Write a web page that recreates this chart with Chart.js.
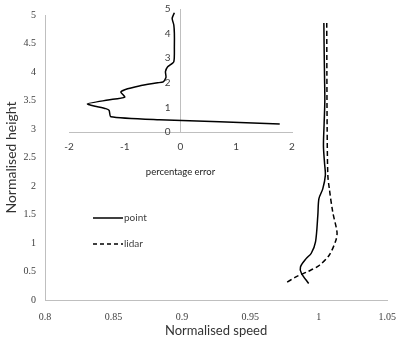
<!DOCTYPE html>
<html>
<head>
<meta charset="utf-8">
<script src="https://cdn.jsdelivr.net/npm/chart.js@4"></script>
<style>
  html, body { margin: 0; padding: 0; background: #fff; }
  #wrap { position: relative; width: 407px; height: 344px; }
  #wrap canvas { position: absolute; left: 0; top: 0; }
  #inset { pointer-events: none; }
</style>
</head>
<body>
<div id="wrap">
  <canvas id="main" width="407" height="344"></canvas>
  <canvas id="inset" width="407" height="344"></canvas>
</div>
<script>
// main profile: normalised height vs normalised speed
const heightPoint = [4.86, 4.4, 3.9, 3.5, 3.1, 2.7, 2.4, 2.19, 1.95, 1.78, 1.49, 1.02, 0.82, 0.73, 0.58, 0.47, 0.29];
const speedPoint  = [1.0037, 1.0039, 1.0042, 1.0044, 1.0039, 1.0034, 1.0042, 1.0048, 1.0029, 1.0001, 0.9993, 0.9976, 0.9945, 0.9909, 0.9866, 0.9873, 0.9926];

const heightLidar = [4.86, 4.0, 3.0, 2.19, 1.95, 1.54, 1.19, 1.05, 0.79, 0.61, 0.5, 0.41, 0.29];
const speedLidar  = [1.0058, 1.0059, 1.0061, 1.0066, 1.0077, 1.0102, 1.0133, 1.0125, 1.0077, 1.0005, 0.9921, 0.9837, 0.9753];

// inset: percentage error vs normalised height
const heightErr = [4.85, 4.62, 4.35, 4.01, 3.47, 2.86, 2.65, 2.45, 2.22, 2.04, 2.0, 1.87, 1.72, 1.62, 1.42, 1.30, 1.14, 0.95, 0.88, 0.62, 0.5, 0.33];
const pctErr     = [-0.11, -0.15, -0.12, -0.11, -0.11, -0.12, -0.23, -0.27, -0.26, -0.31, -0.41, -0.74, -1.0, -1.07, -1.0, -1.3, -1.67, -1.34, -1.28, -1.25, -0.38, 1.78];

const seriesNames = ['point', 'lidar'];

const axisGrey = '#bfbfbf';
const textGrey = '#404040';

function toXY(xs, ys) {
  return xs.map((x, i) => ({ x: x, y: ys[i] }));
}

// drop trailing zeros, excel style (0.80 -> 0.8, 5.0 -> 5)
function plainTick(v) {
  return String(Number(v.toFixed(2)));
}

// little legend drawn inside the plot, like the original
const legendPlugin = {
  id: 'innerLegend',
  afterDraw(chart) {
    const c = chart.ctx;
    const rows = [{ y: 218, dash: [] }, { y: 244, dash: [4, 3] }];
    c.save();
    rows.forEach((r, i) => {
      c.strokeStyle = '#000';
      c.lineWidth = 1.5;
      c.setLineDash(r.dash);
      c.beginPath();
      c.moveTo(93, r.y);
      c.lineTo(123, r.y);
      c.stroke();
      c.setLineDash([]);
      c.fillStyle = textGrey;
      c.font = '10px Lato';
      c.textBaseline = 'middle';
      c.fillText(chart.data.datasets[i].label, 124, r.y);
    });
    c.restore();
  }
};

new Chart(document.getElementById('main'), {
  type: 'scatter',
  data: {
    datasets: [
      {
        label: seriesNames[0],
        data: toXY(speedPoint, heightPoint),
        showLine: true,
        borderColor: '#000',
        borderWidth: 1.5,
        pointRadius: 0,
        tension: 0.3
      },
      {
        label: seriesNames[1],
        data: toXY(speedLidar, heightLidar),
        showLine: true,
        borderColor: '#000',
        borderWidth: 1.5,
        borderDash: [5, 3],
        pointRadius: 0,
        tension: 0.3
      }
    ]
  },
  options: {
    responsive: false,
    animation: false,
    layout: { padding: { left: 0, right: 15, top: 14, bottom: 0 } },
    plugins: { legend: { display: false }, tooltip: { enabled: false } },
    scales: {
      x: {
        type: 'linear',
        min: 0.8,
        max: 1.05,
        ticks: { stepSize: 0.05, color: textGrey, padding: 11, callback: plainTick, font: { family: 'Liberation Serif', size: 10 } },
        grid: { display: false, drawTicks: false },
        border: { color: axisGrey, width: 1 },
        title: { display: true, text: 'Normalised speed', color: '#333', padding: { top: 0, bottom: 5 }, font: { family: 'Lato', size: 13 } },
        afterFit: (s) => { s.height = 44; }
      },
      y: {
        type: 'linear',
        min: 0,
        max: 5,
        ticks: { stepSize: 0.5, color: textGrey, padding: 9, callback: plainTick, font: { family: 'Liberation Serif', size: 10 } },
        grid: { display: false, drawTicks: false },
        border: { color: axisGrey, width: 1 },
        title: { display: true, text: 'Normalised height', color: '#333', padding: { top: 3, bottom: 0 }, font: { family: 'Lato', size: 14 } },
        afterFit: (s) => { s.width = 45; }
      }
    }
  },
  plugins: [legendPlugin]
});

new Chart(document.getElementById('inset'), {
  type: 'scatter',
  data: {
    datasets: [
      {
        label: 'percentage error',
        data: toXY(pctErr, heightErr),
        showLine: true,
        borderColor: '#000',
        borderWidth: 1.5,
        pointRadius: 0,
        tension: 0.2
      }
    ]
  },
  options: {
    responsive: false,
    animation: false,
    layout: { padding: { left: 69, right: 115, top: 9, bottom: 162 } },
    plugins: { legend: { display: false }, tooltip: { enabled: false } },
    scales: {
      x: {
        type: 'linear',
        position: 'bottom',
        min: -2,
        max: 2,
        ticks: { stepSize: 1, color: textGrey, padding: 9, font: { family: 'Lato', size: 10 } },
        grid: { display: false, drawTicks: false },
        border: { color: axisGrey, width: 1 },
        title: { display: true, text: 'percentage error', color: '#222', padding: { top: 0, bottom: 4 }, font: { family: 'Lato', size: 9.5 } },
        afterFit: (s) => { s.height = 50; }
      },
      y: {
        type: 'linear',
        position: { x: 0 },
        min: 0,
        max: 5,
        // a centred axis ignores ticks.padding, so push the labels off the line with en spaces
        ticks: { stepSize: 1, color: textGrey, callback: (v) => v + '\u2002\u2002', font: { family: 'Lato', size: 10 } },
        grid: { display: false, drawTicks: false },
        border: { color: axisGrey, width: 1 },
        afterFit: (s) => { s.width = 0; }
      }
    }
  }
});
</script>
</body>
</html>
